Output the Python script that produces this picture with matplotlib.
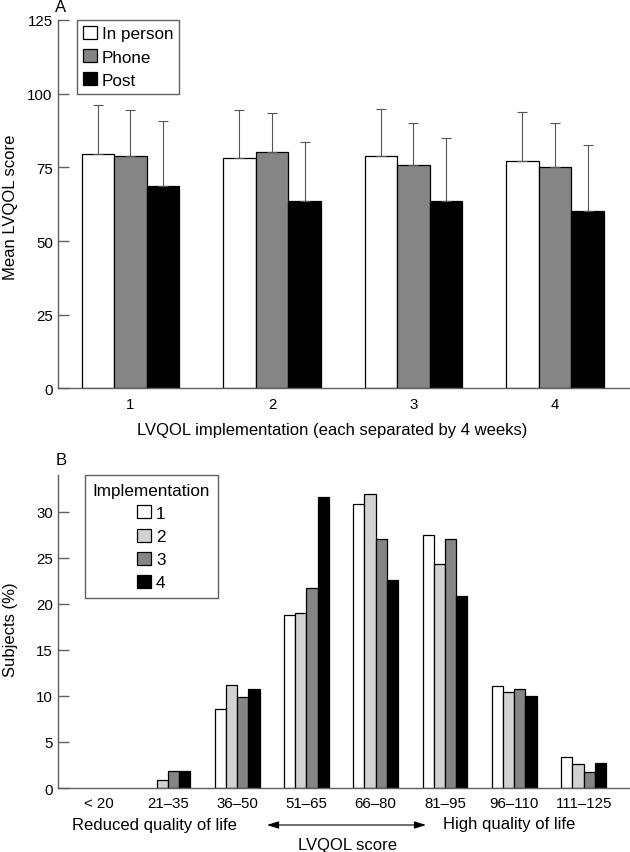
import matplotlib
matplotlib.use("Agg")
import matplotlib.pyplot as plt
import numpy as np
from matplotlib.patches import Patch, FancyArrowPatch

plt.rcParams['font.family'] = ['Liberation Sans', 'DejaVu Sans']

# panel A: mean LVQOL score by administration mode
implementations = ['1', '2', '3', '4']
modes = ['In person', 'Phone', 'Post']
mean_scores = {
    'In person': [79.6, 78.1, 78.8, 77.0],
    'Phone': [78.8, 80.1, 75.8, 75.2],
    'Post': [68.7, 63.7, 63.7, 60.3],
}
sd_scores = {
    'In person': [16.6, 16.5, 15.9, 16.8],
    'Phone': [15.8, 13.2, 14.1, 15.0],
    'Post': [21.9, 19.9, 21.1, 22.2],
}
mode_colors = ['white', '#858585', 'black']

# panel B: distribution of scores (% of subjects)
score_bands = ['< 20', '21\u201335', '36\u201350', '51\u201365', '66\u201380',
               '81\u201395', '96\u2013110', '111\u2013125']
impl_labels = ['1', '2', '3', '4']
subjects_pct = {
    '1': [0, 0, 8.6, 18.8, 30.8, 27.5, 11.1, 3.4],
    '2': [0, 0.9, 11.2, 19.0, 31.9, 24.3, 10.4, 2.6],
    '3': [0, 1.8, 9.9, 21.7, 27.1, 27.1, 10.8, 1.7],
    '4': [0, 1.8, 10.8, 31.6, 22.6, 20.9, 10.0, 2.7],
}
impl_colors = ['white', '#d2d2d2', '#858585', 'black']

spine_col = '#606060'
fig = plt.figure(figsize=(6.3, 8.53), dpi=100)

def style_axes(ax):
    for s in ['top', 'right']:
        ax.spines[s].set_visible(False)
    for s in ['left', 'bottom']:
        ax.spines[s].set_color(spine_col)
        ax.spines[s].set_linewidth(1.0)
    ax.tick_params(axis='y', direction='in', length=8, width=1.0,
                   color=spine_col, labelsize=10.8, pad=4)
    ax.tick_params(axis='x', length=0, labelsize=10.8, pad=6)

# ---- panel A
ax1 = fig.add_axes([0.0925, 0.5434, 0.9075, 0.432])
x = np.arange(1, len(implementations) + 1)
w = 0.23
for i, m in enumerate(modes):
    pos = x + (i - 1) * w
    ax1.bar(pos, mean_scores[m], width=w, color=mode_colors[i],
            edgecolor='black', linewidth=0.9, zorder=2)
    ax1.errorbar(pos, mean_scores[m],
                 yerr=[np.zeros(len(x)), sd_scores[m]],
                 fmt='none', ecolor='#555555', elinewidth=0.8,
                 capsize=3.6, capthick=0.8, zorder=3)
ax1.set_xlim(0.49, 4.53)
ax1.set_ylim(0, 125)
ax1.set_yticks([0, 25, 50, 75, 100, 125])
ax1.set_xticks(x)
ax1.set_xticklabels(implementations)
style_axes(ax1)
ax1.set_ylabel('Mean LVQOL score', fontsize=12)
ax1.yaxis.set_label_coords(-0.071, 0.495)
ax1.set_xlabel('LVQOL implementation (each separated by 4 weeks)', fontsize=12)
ax1.xaxis.set_label_coords(0.479, -0.092)

h1 = [Patch(facecolor=c, edgecolor='black', linewidth=0.9) for c in mode_colors]
leg1 = ax1.legend(h1, modes, loc='upper left', bbox_to_anchor=(0.0327, 1.0),
                  borderaxespad=0, fontsize=12.3, handlelength=0.8,
                  handleheight=0.8, handletextpad=0.3, labelspacing=0.45,
                  borderpad=0.35, fancybox=False, framealpha=1)
leg1.get_frame().set_edgecolor(spine_col)
leg1.get_frame().set_linewidth(1.0)

# ---- panel B
ax2 = fig.add_axes([0.0925, 0.075, 0.9075, 0.367])
xb = np.arange(len(score_bands))
wb = 0.162
for i, k in enumerate(impl_labels):
    bars = ax2.bar(xb + (i - 1.5) * wb, subjects_pct[k], width=wb,
                   color=impl_colors[i], edgecolor='black', linewidth=0.9,
                   zorder=2)
    for b, v in zip(bars, subjects_pct[k]):
        if v == 0:
            b.set_visible(False)
ax2.set_xlim(-0.58, 7.67)
ax2.set_ylim(0, 34)
ax2.set_yticks([0, 5, 10, 15, 20, 25, 30])
ax2.set_xticks(xb)
ax2.set_xticklabels(score_bands)
style_axes(ax2)
ax2.set_ylabel('Subjects (%)', fontsize=12)
ax2.yaxis.set_label_coords(-0.071, 0.508)

h2 = [Patch(facecolor=c, edgecolor='black', linewidth=0.9) for c in impl_colors]
leg2 = ax2.legend(h2, impl_labels, title='Implementation',
                  loc='upper left', bbox_to_anchor=(0.0467, 1.0),
                  borderaxespad=0, fontsize=12.3, title_fontsize=12.3,
                  handlelength=0.8, handleheight=0.8, handletextpad=0.3,
                  labelspacing=0.45, borderpad=0.45, fancybox=False,
                  framealpha=1)
leg2.get_frame().set_edgecolor(spine_col)
leg2.get_frame().set_linewidth(1.0)

# annotations under panel B (figure pixel coordinates -> fraction)
W, H = 630.0, 853.0
fig.text(154.5 / W, 1 - 826 / H, 'Reduced quality of life', fontsize=12,
         ha='center', va='center')
fig.text(509 / W, 1 - 825 / H, 'High quality of life', fontsize=12,
         ha='center', va='center')
fig.text(347.5 / W, 1 - 846 / H, 'LVQOL score', fontsize=12,
         ha='center', va='center')
fig.add_artist(FancyArrowPatch(
    (267 / W, 1 - 826 / H), (426 / W, 1 - 826 / H),
    transform=fig.transFigure,
    arrowstyle='<|-|>,head_length=0.7,head_width=0.22',
    mutation_scale=10, color='black', linewidth=0.8,
    shrinkA=0, shrinkB=0))

fig.text(61 / W, 1 - 8 / H, 'A', fontsize=12, ha='center', va='center')
fig.text(61 / W, 1 - 461 / H, 'B', fontsize=12, ha='center', va='center')

fig.savefig('out.png', dpi=100)
